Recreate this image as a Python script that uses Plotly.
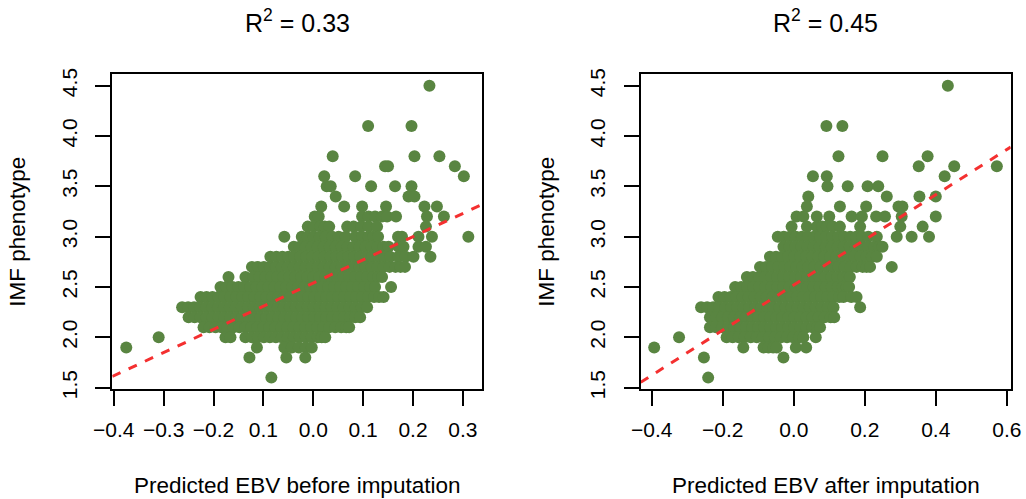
import plotly.graph_objects as go

# ---------------- data ----------------
panel_titles = ["R<sup>2</sup> = 0.33", "R<sup>2</sup> = 0.45"]
x_titles = ["Predicted EBV before imputation", "Predicted EBV after imputation"]
y_title = "IMF phenotype"

# IMF phenotype levels (y) and predicted EBV values (x) read per level
before_levels = [4.5, 4.1, 3.8, 3.7, 3.6, 3.5, 3.4, 3.3, 3.2, 3.1, 3.0, 2.9, 2.8,
                 2.7, 2.6, 2.5, 2.4, 2.3, 2.2, 2.1, 2.0, 1.9, 1.8, 1.6]
before_rows = [
    [0.233],
    [0.110, 0.197],
    [0.039, 0.203, 0.253],
    [0.144, 0.150, 0.284],
    [0.022, 0.084, 0.302],
    [0.027, 0.035, 0.116, 0.164, 0.197],
    [0.045, 0.191, 0.203],
    [0.016, 0.062, 0.098, 0.146, 0.223, 0.248],
    [0.003, 0.011, 0.098, 0.111, 0.124, 0.138, 0.148, 0.166, 0.228, 0.262],
    [-0.011, 0.001, 0.014, 0.023, 0.032, 0.068, 0.081, 0.096, 0.111, 0.128, 0.226],
    [-0.058, -0.023, -0.011, 0.001, 0.013, 0.025, 0.038, 0.051, 0.065, 0.084, 0.098,
     0.111, 0.120, 0.130, 0.170, 0.178, 0.211, 0.238, 0.311],
    [-0.039, -0.027, -0.015, -0.003, 0.009, 0.021, 0.033, 0.045, 0.057, 0.069, 0.081,
     0.093, 0.105, 0.117, 0.129, 0.141, 0.151, 0.171, 0.181, 0.211, 0.226],
    [-0.086, -0.074, -0.062, -0.050, -0.038, -0.026, -0.014, -0.002, 0.010, 0.022, 0.034,
     0.046, 0.058, 0.070, 0.082, 0.094, 0.106, 0.118, 0.130, 0.142, 0.154, 0.171, 0.185,
     0.201, 0.235],
    [-0.123, -0.111, -0.099, -0.087, -0.075, -0.063, -0.051, -0.039, -0.027, -0.015, -0.003,
     0.009, 0.021, 0.033, 0.045, 0.057, 0.069, 0.081, 0.093, 0.105, 0.117, 0.129, 0.141,
     0.153, 0.165, 0.175, 0.184],
    [-0.170, -0.136, -0.120, -0.108, -0.096, -0.084, -0.072, -0.060, -0.048, -0.036, -0.024,
     -0.012, 0.000, 0.012, 0.024, 0.036, 0.048, 0.060, 0.072, 0.084, 0.096, 0.108, 0.120,
     0.130, 0.138],
    [-0.186, -0.174, -0.162, -0.150, -0.138, -0.126, -0.114, -0.102, -0.090, -0.078, -0.066,
     -0.054, -0.042, -0.030, -0.018, -0.006, 0.006, 0.018, 0.030, 0.042, 0.054, 0.066,
     0.078, 0.090, 0.102, 0.114, 0.124, 0.156],
    [-0.226, -0.214, -0.202, -0.190, -0.178, -0.166, -0.154, -0.142, -0.130, -0.118, -0.106,
     -0.094, -0.082, -0.070, -0.058, -0.046, -0.034, -0.022, -0.010, 0.002, 0.014, 0.026,
     0.038, 0.050, 0.062, 0.074, 0.086, 0.098, 0.110, 0.122, 0.132, 0.141],
    [-0.263, -0.251, -0.239, -0.227, -0.215, -0.203, -0.191, -0.179, -0.167, -0.155, -0.143,
     -0.131, -0.119, -0.107, -0.095, -0.083, -0.071, -0.059, -0.047, -0.035, -0.023, -0.011,
     0.001, 0.013, 0.025, 0.037, 0.049, 0.061, 0.073, 0.085, 0.097, 0.108],
    [-0.250, -0.238, -0.226, -0.214, -0.202, -0.190, -0.178, -0.166, -0.154, -0.142, -0.130,
     -0.118, -0.106, -0.094, -0.082, -0.070, -0.058, -0.046, -0.034, -0.022, -0.010, 0.002,
     0.014, 0.026, 0.038, 0.050, 0.062, 0.074, 0.084, 0.094],
    [-0.220, -0.208, -0.196, -0.184, -0.172, -0.160, -0.148, -0.136, -0.124, -0.112, -0.100,
     -0.088, -0.076, -0.064, -0.052, -0.040, -0.028, -0.016, -0.004, 0.008, 0.020, 0.032,
     0.044, 0.056, 0.066, 0.072],
    [-0.310, -0.176, -0.166, -0.136, -0.123, -0.111, -0.099, -0.087, -0.075, -0.063, -0.051,
     -0.039, -0.027, -0.015, -0.003, 0.009, 0.017, 0.024],
    [-0.375, -0.113, -0.058, -0.043, -0.029, -0.015, -0.003],
    [-0.128, -0.054, -0.016],
    [-0.084],
]

after_levels = [4.5, 4.1, 3.8, 3.7, 3.6, 3.5, 3.4, 3.3, 3.2, 3.1, 3.0, 2.9, 2.8,
                2.7, 2.6, 2.5, 2.4, 2.3, 2.2, 2.1, 2.0, 1.9, 1.8, 1.6]
after_rows = [
    [0.434],
    [0.092, 0.137],
    [0.126, 0.250, 0.377],
    [0.352, 0.452, 0.572],
    [0.054, 0.093, 0.425],
    [0.095, 0.152, 0.208, 0.238],
    [0.041, 0.262, 0.354, 0.400],
    [0.037, 0.130, 0.204, 0.295, 0.306],
    [0.008, 0.027, 0.065, 0.100, 0.163, 0.192, 0.232, 0.257, 0.304, 0.400],
    [-0.006, 0.037, 0.065, 0.080, 0.093, 0.110, 0.130, 0.187, 0.300, 0.363],
    [-0.045, -0.028, -0.011, 0.006, 0.023, 0.040, 0.057, 0.074, 0.091, 0.108, 0.125,
     0.142, 0.159, 0.176, 0.193, 0.210, 0.234, 0.290, 0.332, 0.381],
    [-0.029, -0.012, 0.005, 0.022, 0.039, 0.056, 0.073, 0.090, 0.107, 0.124, 0.141,
     0.158, 0.175, 0.192, 0.209, 0.226, 0.240, 0.250],
    [-0.067, -0.050, -0.033, -0.016, 0.001, 0.018, 0.035, 0.052, 0.069, 0.086, 0.103,
     0.120, 0.137, 0.154, 0.171, 0.188, 0.205, 0.220, 0.234],
    [-0.095, -0.078, -0.061, -0.044, -0.027, -0.010, 0.007, 0.024, 0.041, 0.058, 0.075,
     0.092, 0.109, 0.126, 0.143, 0.160, 0.177, 0.194, 0.205, 0.215, 0.276],
    [-0.132, -0.115, -0.098, -0.081, -0.064, -0.047, -0.030, -0.013, 0.004, 0.021, 0.038,
     0.055, 0.072, 0.089, 0.106, 0.123, 0.140, 0.150, 0.158],
    [-0.165, -0.148, -0.131, -0.114, -0.097, -0.080, -0.063, -0.046, -0.029, -0.012, 0.005,
     0.022, 0.039, 0.056, 0.073, 0.090, 0.107, 0.124, 0.138, 0.149, 0.156],
    [-0.212, -0.195, -0.178, -0.161, -0.144, -0.127, -0.110, -0.093, -0.076, -0.059, -0.042,
     -0.025, -0.008, 0.009, 0.026, 0.043, 0.060, 0.077, 0.094, 0.111, 0.128, 0.140, 0.162,
     0.177],
    [-0.261, -0.244, -0.227, -0.210, -0.193, -0.176, -0.159, -0.142, -0.125, -0.108, -0.091,
     -0.074, -0.057, -0.040, -0.023, -0.006, 0.011, 0.028, 0.045, 0.062, 0.079, 0.096,
     0.112, 0.187],
    [-0.236, -0.219, -0.202, -0.185, -0.168, -0.151, -0.134, -0.117, -0.100, -0.083, -0.066,
     -0.049, -0.032, -0.015, 0.002, 0.019, 0.036, 0.053, 0.070, 0.087, 0.104, 0.114],
    [-0.236, -0.219, -0.202, -0.185, -0.168, -0.151, -0.134, -0.117, -0.100, -0.083, -0.066,
     -0.049, -0.032, -0.015, 0.002, 0.019, 0.036, 0.053, 0.066, 0.074],
    [-0.323, -0.189, -0.172, -0.155, -0.138, -0.121, -0.104, -0.087, -0.070, -0.053, -0.036,
     -0.019, -0.002, 0.015, 0.027, 0.062],
    [-0.393, -0.142, -0.085, -0.071, -0.058, -0.048, 0.006, 0.035],
    [-0.253, -0.029],
    [-0.241],
]

# regression lines (intercept, slope)
before_fit = [2.540, 2.303]
after_fit = [2.520, 2.243]

before_tickvals = [-0.4, -0.3, -0.2, -0.1, 0.0, 0.1, 0.2, 0.3]
before_ticktext = ["\u22120.4", "\u22120.3", "\u22120.2", "0.1", "0.0", "0.1", "0.2", "0.3"]
after_tickvals = [-0.4, -0.2, 0.0, 0.2, 0.4, 0.6]
after_ticktext = ["\u22120.4", "\u22120.2", "0.0", "0.2", "0.4", "0.6"]
y_tickvals = [1.5, 2.0, 2.5, 3.0, 3.5, 4.0, 4.5]
y_ticktext = ["1.5", "2.0", "2.5", "3.0", "3.5", "4.0", "4.5"]

before_xrange = [-0.403, 0.339]
after_xrange = [-0.431, 0.611]
y_range = [1.484, 4.616]

# ---------------- styling ----------------
W, H = 1026, 499
FONT = "Liberation Sans, Arial, sans-serif"
POINT_COLOR = "#598541"
LINE_COLOR = "#f43030"

def flatten(levels, rows):
    xs, ys = [], []
    for lv, row in zip(levels, rows):
        for v in row:
            xs.append(v)
            ys.append(lv)
    return xs, ys

fig = go.Figure()

panels = [
    (before_levels, before_rows, before_fit, before_xrange, "x", "y"),
    (after_levels, after_rows, after_fit, after_xrange, "x2", "y2"),
]
for levels, rows, fit, xr, xa, ya in panels:
    xs, ys = flatten(levels, rows)
    fig.add_trace(go.Scatter(x=xs, y=ys, mode="markers", xaxis=xa, yaxis=ya,
                             marker=dict(size=12, color=POINT_COLOR, line=dict(width=0)),
                             showlegend=False, hoverinfo="skip"))
    lx = [xr[0], xr[1]]
    ly = [fit[0] + fit[1] * v for v in lx]
    fig.add_trace(go.Scatter(x=lx, y=ly, mode="lines", xaxis=xa, yaxis=ya,
                             line=dict(color=LINE_COLOR, width=3, dash="9px,9px"),
                             showlegend=False, hoverinfo="skip"))

axis_common = dict(showline=True, linecolor="black", linewidth=2, mirror=True,
                   ticks="outside", ticklen=15, tickwidth=2, tickcolor="black",
                   showgrid=False, zeroline=False, automargin=False,
                   tickfont=dict(family=FONT, size=21, color="black"))

ydom = [1 - 389.3 / H, 1 - 74.0 / H]
fig.update_layout(
    width=W, height=H,
    margin=dict(l=0, r=0, t=0, b=0, pad=0, autoexpand=False),
    paper_bgcolor="white", plot_bgcolor="white",
    xaxis=dict(domain=[112.3 / W, 482.3 / W], range=before_xrange,
               tickmode="array", tickvals=before_tickvals, ticktext=before_ticktext,
               anchor="y", ticklabelstandoff=5, **axis_common),
    yaxis=dict(domain=ydom, range=y_range, tickmode="array", tickvals=y_tickvals,
               ticktext=y_ticktext, tickangle=-90, anchor="x", ticklabelstandoff=10,
               **axis_common),
    xaxis2=dict(domain=[640.7 / W, 1010.7 / W], range=after_xrange,
                tickmode="array", tickvals=after_tickvals, ticktext=after_ticktext,
                anchor="y2", ticklabelstandoff=5, **axis_common),
    yaxis2=dict(domain=ydom, range=y_range, tickmode="array", tickvals=y_tickvals,
                ticktext=y_ticktext, tickangle=-90, anchor="x2", ticklabelstandoff=10,
                **axis_common),
)

centers = [(112.3 + 482.3) / 2, (640.7 + 1010.7) / 2]
ylab_x = [18, 547]
for i in range(2):
    fig.add_annotation(text=panel_titles[i], xref="paper", yref="paper",
                       x=centers[i] / W, y=1 - 21 / H, xanchor="center", yanchor="middle",
                       showarrow=False, font=dict(family=FONT, size=25, color="black"))
    fig.add_annotation(text=x_titles[i], xref="paper", yref="paper",
                       x=centers[i] / W, y=1 - 485 / H, xanchor="center", yanchor="middle",
                       showarrow=False, font=dict(family=FONT, size=22.5, color="black"))
    fig.add_annotation(text=y_title, xref="paper", yref="paper",
                       x=ylab_x[i] / W, y=1 - 231.7 / H, xanchor="center", yanchor="middle",
                       textangle=-90, showarrow=False,
                       font=dict(family=FONT, size=22.5, color="black"))

fig.write_html("out.html", config={"displayModeBar": False},
               post_script="document.body.style.margin='0';document.body.style.padding='0';")
